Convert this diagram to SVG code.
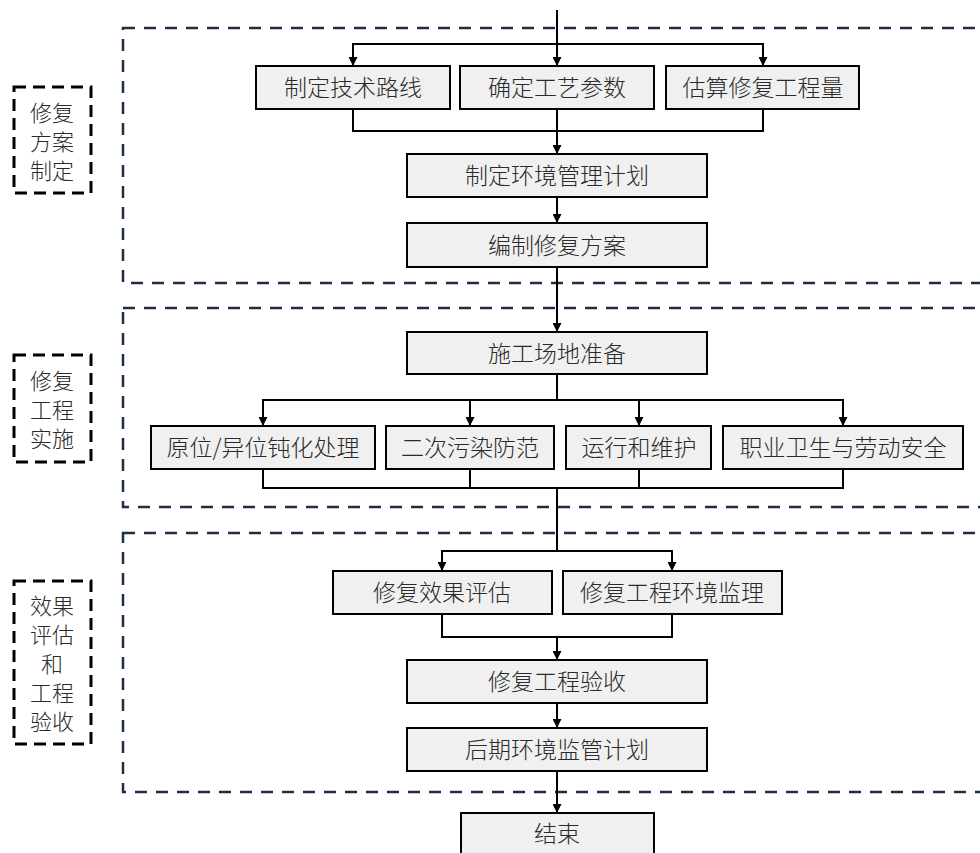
<svg xmlns="http://www.w3.org/2000/svg" width="980" height="853" viewBox="0 0 980 853">
<style>
.sec{fill:none;stroke:#1f2d4a;stroke-width:2.5;stroke-dasharray:12 9}
.lab{fill:none;stroke:#000;stroke-width:3;stroke-dasharray:12 7}
.box{fill:#f0f0f0;stroke:#000;stroke-width:2}
.t{font-family:"Noto Sans CJK SC","Noto Sans",sans-serif;font-size:23px;font-weight:300;fill:#2a2a2a;text-anchor:middle}
.lt{font-family:"Noto Sans CJK SC","Noto Sans",sans-serif;font-size:22px;font-weight:300;fill:#2a2a2a;text-anchor:middle}
.c{fill:none;stroke:#000;stroke-width:2}
</style>
<defs>
<marker id="ah" viewBox="0 0 10 10" refX="10" refY="5" markerWidth="9" markerHeight="9" markerUnits="userSpaceOnUse" orient="auto">
<path d="M0,0 L10,5 L0,10 Z" fill="#000"/>
</marker>
</defs>
<rect width="980" height="853" fill="#fff"/>
<g id="sections">
<rect class="sec" x="123" y="28" width="880" height="255"/>
<rect class="sec" x="123" y="308" width="880" height="199"/>
<rect class="sec" x="123" y="533" width="880" height="259"/>
</g>
<g id="label1"><rect class="lab" x="14" y="87" width="77" height="106"/>
<text class="lt" x="52" y="121">修复</text><text class="lt" x="52" y="150">方案</text><text class="lt" x="52" y="179">制定</text></g>
<g id="label2"><rect class="lab" x="14" y="355" width="77" height="107"/>
<text class="lt" x="52" y="389">修复</text><text class="lt" x="52" y="418">工程</text><text class="lt" x="52" y="447">实施</text></g>
<g id="label3"><rect class="lab" x="14" y="581" width="77" height="163"/>
<text class="lt" x="52" y="614">效果</text><text class="lt" x="52" y="643">评估</text><text class="lt" x="52" y="672">和</text><text class="lt" x="52" y="701">工程</text><text class="lt" x="52" y="730">验收</text></g>
<g id="connectors">
<path class="c" d="M557,10 V66" marker-end="url(#ah)"/>
<path class="c" d="M353,66 V44 H763 V66" />
<path class="c" d="M353,44 V66" marker-end="url(#ah)"/>
<path class="c" d="M763,44 V66" marker-end="url(#ah)"/>
<path class="c" d="M353,109 V131 H763 V109"/>
<path class="c" d="M557,109 V154" marker-end="url(#ah)"/>
<path class="c" d="M557,197 V223" marker-end="url(#ah)"/>
<path class="c" d="M557,267 V332" marker-end="url(#ah)"/>
<path class="c" d="M557,374 V400"/>
<path class="c" d="M263,426 V400 H843 V426"/>
<path class="c" d="M263,400 V426" marker-end="url(#ah)"/>
<path class="c" d="M470,400 V426" marker-end="url(#ah)"/>
<path class="c" d="M639,400 V426" marker-end="url(#ah)"/>
<path class="c" d="M843,400 V426" marker-end="url(#ah)"/>
<path class="c" d="M263,469 V488 H843 V469 M470,469 V488 M639,469 V488"/>
<path class="c" d="M557,488 V551"/>
<path class="c" d="M442,571 V551 H672 V571"/>
<path class="c" d="M442,551 V571" marker-end="url(#ah)"/>
<path class="c" d="M672,551 V571" marker-end="url(#ah)"/>
<path class="c" d="M442,614 V637 H672 V614"/>
<path class="c" d="M557,637 V660" marker-end="url(#ah)"/>
<path class="c" d="M557,703 V728" marker-end="url(#ah)"/>
<path class="c" d="M557,771 V813" marker-end="url(#ah)"/>
</g>
<g id="n1"><rect class="box" x="256" y="66" width="194" height="43"/><text class="t" x="353" y="96">制定技术路线</text></g>
<g id="n2"><rect class="box" x="460" y="66" width="194" height="43"/><text class="t" x="557" y="96">确定工艺参数</text></g>
<g id="n3"><rect class="box" x="666" y="66" width="193" height="43"/><text class="t" x="763" y="96">估算修复工程量</text></g>
<g id="n4"><rect class="box" x="407" y="154" width="300" height="43"/><text class="t" x="557" y="184">制定环境管理计划</text></g>
<g id="n5"><rect class="box" x="407" y="223" width="300" height="44"/><text class="t" x="557" y="254">编制修复方案</text></g>
<g id="n6"><rect class="box" x="407" y="332" width="300" height="42"/><text class="t" x="557" y="362">施工场地准备</text></g>
<g id="n7"><rect class="box" x="151" y="426" width="224" height="43"/><text class="t" x="263" y="456">原位/异位钝化处理</text></g>
<g id="n8"><rect class="box" x="386" y="426" width="168" height="43"/><text class="t" x="470" y="456">二次污染防范</text></g>
<g id="n9"><rect class="box" x="566" y="426" width="145" height="43"/><text class="t" x="639" y="456">运行和维护</text></g>
<g id="n10"><rect class="box" x="723" y="426" width="240" height="43"/><text class="t" x="843" y="456">职业卫生与劳动安全</text></g>
<g id="n11"><rect class="box" x="333" y="571" width="219" height="43"/><text class="t" x="442" y="601">修复效果评估</text></g>
<g id="n12"><rect class="box" x="563" y="571" width="219" height="43"/><text class="t" x="672" y="601">修复工程环境监理</text></g>
<g id="n13"><rect class="box" x="407" y="660" width="300" height="43"/><text class="t" x="557" y="690">修复工程验收</text></g>
<g id="n14"><rect class="box" x="407" y="728" width="300" height="43"/><text class="t" x="557" y="758">后期环境监管计划</text></g>
<g id="n15"><rect class="box" x="461" y="813" width="193" height="50"/><text class="t" x="557" y="842">结束</text></g>
</svg>
